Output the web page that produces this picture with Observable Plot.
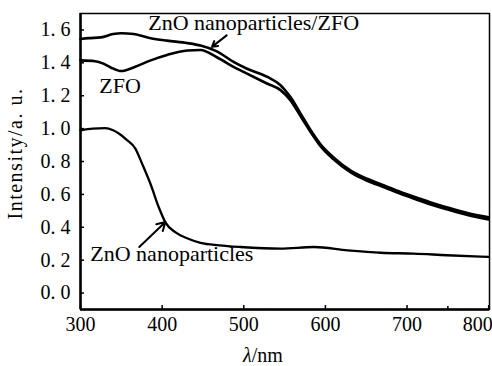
<!DOCTYPE html>
<html><head><meta charset="utf-8">
<script src="https://cdn.jsdelivr.net/npm/d3@7"></script>
<script src="https://cdn.jsdelivr.net/npm/@observablehq/plot@0.6"></script>
<style>
body{margin:0;background:#fff}
svg, svg text, svg tspan { font-family: "Liberation Serif", "Tinos", "DejaVu Serif", serif !important; }
</style>
</head><body><div id="chart"></div>
<script>
// ZnO nanoparticles/ZFO composite
const compWl = [300, 310, 325, 340, 350, 365, 386, 406, 431, 447, 467, 488, 504, 529, 545, 557, 570, 582, 594, 610, 631, 651, 672, 692, 712, 733, 753, 774, 800];
const compI  = [1.545, 1.55, 1.555, 1.575, 1.58, 1.575, 1.55, 1.535, 1.52, 1.505, 1.47, 1.404, 1.364, 1.314, 1.264, 1.193, 1.088, 0.99, 0.905, 0.825, 0.745, 0.695, 0.655, 0.615, 0.58, 0.545, 0.515, 0.487, 0.46];
// ZFO
const zfoWl = [300, 318, 328, 337, 350, 365, 386, 406, 431, 447, 467, 488, 504, 529, 545, 557, 570, 582, 594, 610, 631, 651, 672, 692, 712, 733, 753, 774, 800];
const zfoI  = [1.415, 1.41, 1.395, 1.372, 1.35, 1.372, 1.415, 1.448, 1.475, 1.478, 1.434, 1.374, 1.334, 1.273, 1.234, 1.173, 1.072, 0.978, 0.893, 0.813, 0.733, 0.683, 0.643, 0.603, 0.568, 0.533, 0.503, 0.475, 0.448];
// ZnO nanoparticles
const znoWl = [300, 315, 330, 340, 347, 357, 367, 376, 386, 396, 404, 416, 432, 447, 470, 496, 545, 586, 627, 668, 708, 749, 800];
const znoI  = [0.99, 1.0, 1.003, 0.99, 0.97, 0.93, 0.88, 0.78, 0.66, 0.52, 0.43, 0.37, 0.33, 0.305, 0.29, 0.28, 0.27, 0.28, 0.26, 0.245, 0.24, 0.23, 0.22];

const xTicks = [300, 400, 500, 600, 700, 800];
const xMinorTicks = [750];
const yTicks = [0, 0.2, 0.4, 0.6, 0.8, 1.0, 1.2, 1.4, 1.6];

const labels = [
  {text: "ZnO nanoparticles/ZFO", x: 383, y: 1.64},
  {text: "ZFO", x: 323, y: 1.26},
  {text: "ZnO nanoparticles", x: 312, y: 0.237}
];
const arrows = [
  {x1: 479, y1: 1.567, x2: 461, y2: 1.497},
  {x1: 372, y1: 0.28, x2: 404, y2: 0.432}
];

const FONT = "'Liberation Serif', Tinos, 'DejaVu Serif', serif";
const toRows = (wl, v) => wl.map((w, i) => ({wl: w, v: v[i]}));
const comp = toRows(compWl, compI);
const zfo = toRows(zfoWl, zfoI);
const zno = toRows(znoWl, znoI);

const chart = Plot.plot({
  width: 492, height: 366,
  marginLeft: 80, marginRight: 3, marginTop: 13, marginBottom: 57,
  style: {fontFamily: FONT, fontSize: "20px", background: "white", color: "black"},
  x: {domain: [300, 801]},
  y: {domain: [-0.1, 1.7]},
  marks: [
    Plot.frame({stroke: "black", strokeWidth: 1.5}),
    Plot.ruleX([300], {stroke: "black", strokeWidth: 2.5}),
    Plot.ruleY([-0.1], {stroke: "black", strokeWidth: 2.5}),
    Plot.axisX({ticks: xTicks, tickSize: -4, tickPadding: 11, label: null, fontSize: 20, fontFamily: FONT, strokeWidth: 1.5}),
    Plot.axisX({ticks: xMinorTicks, tickSize: -3, tickFormat: () => "", label: null, strokeWidth: 1.5}),
    Plot.axisY({ticks: yTicks, tickSize: -4, tickPadding: 14, label: null, fontSize: 20, fontFamily: FONT, strokeWidth: 1.5,
      tickFormat: d => d.toFixed(1).replace(".", ". ")}),
    Plot.line(zno, {x: "wl", y: "v", stroke: "black", strokeWidth: 2.3, curve: "monotone-x"}),
    Plot.line(zfo, {x: "wl", y: "v", stroke: "black", strokeWidth: 2.6, curve: "monotone-x"}),
    Plot.line(comp, {x: "wl", y: "v", stroke: "black", strokeWidth: 2.6, curve: "monotone-x"}),
    Plot.arrow(arrows, {x1: "x1", y1: "y1", x2: "x2", y2: "y2", stroke: "black", strokeWidth: 2, headLength: 7}),
    Plot.text(labels, {x: "x", y: "y", text: "text", textAnchor: "start", lineAnchor: "middle", fontSize: 22, fontFamily: FONT, fill: "black"}),
    Plot.text(["λ/nm"], {frameAnchor: "bottom", textAnchor: "middle", lineAnchor: "middle", dx: -22, dy: 46, fontSize: 20, fontFamily: FONT, fill: "black"}),
    Plot.text(["Intensity/a. u."], {frameAnchor: "left", textAnchor: "middle", lineAnchor: "middle", rotate: -90, dx: -65, dy: -8, fontSize: 20, fontFamily: FONT, fill: "black"})
  ]
});
document.getElementById("chart").appendChild(chart);
d3.select(chart).selectAll("text").each(function() {
  this.setAttribute("font-family", FONT);
  this.style.fontFamily = FONT;
  if (this.textContent === "λ/nm") this.innerHTML = '<tspan font-style="italic">λ</tspan>/nm';
  if (this.textContent === "Intensity/a. u.") this.setAttribute("letter-spacing", "1.5");
  if (this.textContent === "800") { this.setAttribute("text-anchor", "end"); this.setAttribute("dx", "4"); }
});
</script>
</body></html>
